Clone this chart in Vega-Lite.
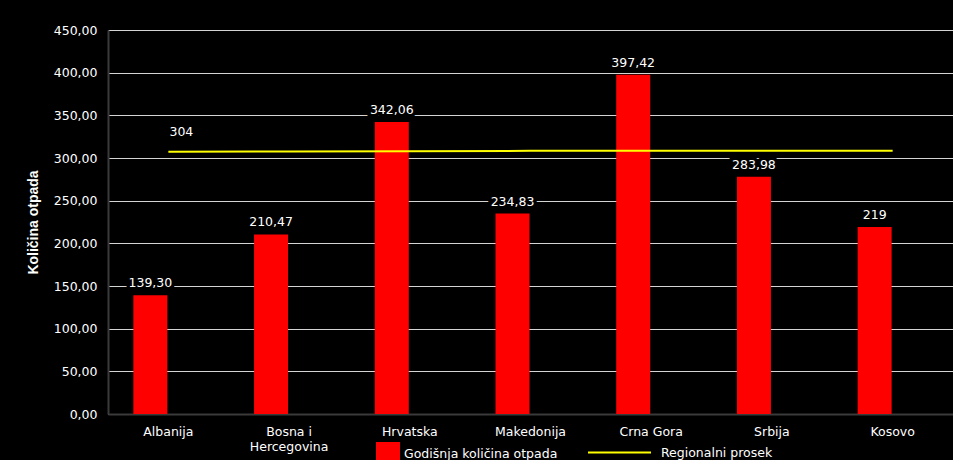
{
  "$schema": "https://vega.github.io/schema/vega-lite/v6.json",
  "width": 845,
  "height": 384,
  "autosize": {"type": "none"},
  "padding": {"left": 108, "top": 30, "right": 0, "bottom": 46},
  "background": "black",
  "config": {
    "view": {"stroke": null},
    "font": "DejaVu Sans",
    "legend": {"labelColor": "white", "labelFontSize": 12.5, "labelFont": "DejaVu Sans", "padding": 0}
  },
  "datasets": {
    "bars": [
      {"country": "Albanija", "value": 139.30, "label": "139,30", "series": "Godišnja količina otpada"},
      {"country": "Bosna i Hercegovina", "value": 210.47, "label": "210,47", "series": "Godišnja količina otpada"},
      {"country": "Hrvatska", "value": 342.06, "label": "342,06", "series": "Godišnja količina otpada"},
      {"country": "Makedonija", "value": 234.83, "label": "234,83", "series": "Godišnja količina otpada"},
      {"country": "Crna Gora", "value": 397.42, "label": "397,42", "series": "Godišnja količina otpada"},
      {"country": "Srbija", "value": 278.0, "label": "283,98", "series": "Godišnja količina otpada"},
      {"country": "Kosovo", "value": 219.0, "label": "219", "series": "Godišnja količina otpada"}
    ],
    "avg": [
      {"country": "Albanija", "value": 307.3, "series": "Regionalni prosek"},
      {"country": "Bosna i Hercegovina", "value": 307.6, "series": "Regionalni prosek"},
      {"country": "Hrvatska", "value": 308.0, "series": "Regionalni prosek"},
      {"country": "Makedonija", "value": 308.4, "series": "Regionalni prosek"},
      {"country": "Crna Gora", "value": 308.6, "series": "Regionalni prosek"},
      {"country": "Srbija", "value": 308.6, "series": "Regionalni prosek"},
      {"country": "Kosovo", "value": 308.6, "series": "Regionalni prosek"}
    ],
    "avglabel": [
      {"country": "Albanija", "value": 304, "label": "304"}
    ]
  },
  "encoding": {
    "x": {
      "field": "country",
      "type": "nominal",
      "sort": ["Albanija", "Bosna i Hercegovina", "Hrvatska", "Makedonija", "Crna Gora", "Srbija", "Kosovo"],
      "scale": {"paddingInner": 0, "paddingOuter": 0},
      "axis": {
        "title": null,
        "labelAngle": 0,
        "labelColor": "white",
        "labelFont": "DejaVu Sans",
        "labelFontSize": 12.5,
        "labelPadding": 11,
        "labelLineHeight": 15,
        "ticks": false,
        "domainColor": "#3a3a3a",
        "domainWidth": 2,
        "labelExpr": "datum.value == 'Bosna i Hercegovina' ? ['Bosna i', 'Hercegovina'] : datum.value"
      }
    },
    "y": {
      "field": "value",
      "type": "quantitative",
      "scale": {"domain": [0, 450], "nice": false},
      "axis": {
        "title": "Količina otpada",
        "titleColor": "white",
        "titleFont": "Liberation Sans",
        "titleFontSize": 14,
        "titleFontWeight": "bold",
        "titlePadding": 13,
        "values": [0, 50, 100, 150, 200, 250, 300, 350, 400, 450],
        "labelExpr": "replace(format(datum.value, '.2f'), '.', ',')",
        "labelColor": "white",
        "labelFont": "DejaVu Sans",
        "labelFontSize": 12.5,
        "labelPadding": 11,
        "ticks": false,
        "domainColor": "#3a3a3a",
        "domainWidth": 2,
        "grid": true,
        "gridColor": "#d4d4d4",
        "gridWidth": 1
      }
    }
  },
  "layer": [
    {
      "data": {"name": "bars"},
      "mark": {"type": "bar", "size": 34, "xOffset": -18},
      "encoding": {
        "fill": {
          "field": "series",
          "type": "nominal",
          "scale": {"domain": ["Godišnja količina otpada"], "range": ["#ff0000"]},
          "legend": {
            "title": null,
            "orient": "none",
            "legendX": 268,
            "legendY": 412,
            "symbolType": "square",
            "symbolSize": 576,
            "symbolStrokeWidth": 0,
            "labelOffset": 4
          }
        }
      }
    },
    {
      "data": {"name": "avg"},
      "mark": {"type": "line", "strokeWidth": 2},
      "encoding": {
        "stroke": {
          "field": "series",
          "type": "nominal",
          "scale": {"domain": ["Regionalni prosek"], "range": ["#ffff00"]},
          "legend": {
            "title": null,
            "orient": "none",
            "legendX": 479,
            "legendY": 390,
            "symbolType": "stroke",
            "symbolSize": 3969,
            "symbolStrokeWidth": 2,
            "labelOffset": 9
          }
        }
      }
    },
    {
      "data": {"name": "bars"},
      "mark": {"type": "text", "xOffset": -18, "dy": -12, "baseline": "middle", "fontSize": 12.5, "font": "DejaVu Sans", "stroke": "black", "strokeWidth": 7, "fill": "black"},
      "encoding": {"text": {"field": "label"}}
    },
    {
      "data": {"name": "bars"},
      "mark": {"type": "text", "xOffset": -18, "dy": -12, "baseline": "middle", "fontSize": 12.5, "font": "DejaVu Sans", "color": "white"},
      "encoding": {"text": {"field": "label"}}
    },
    {
      "data": {"name": "avglabel"},
      "mark": {"type": "text", "dx": 13, "dy": -23, "baseline": "middle", "fontSize": 12.5, "font": "DejaVu Sans", "color": "white"},
      "encoding": {"text": {"field": "label"}}
    }
  ]
}
